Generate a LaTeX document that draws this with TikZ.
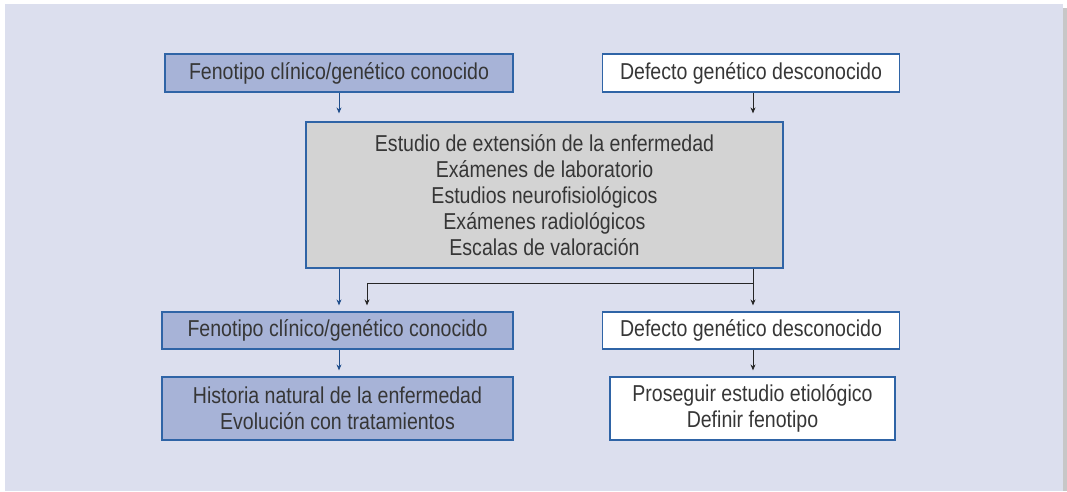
\documentclass[tikz,border=0pt]{standalone}
\usepackage{fontspec}
\setmainfont[FakeStretch=0.85]{Liberation Sans}
\usetikzlibrary{positioning,arrows.meta}
\definecolor{panel}{HTML}{DCDFEE}
\definecolor{boxblue}{HTML}{A7B3D7}
\definecolor{edgeblue}{HTML}{2F64A6}
\definecolor{arrblue}{HTML}{1F4E8C}
\definecolor{boxgray}{HTML}{D3D3D3}
\definecolor{txt}{HTML}{363636}
\begin{document}
\begin{tikzpicture}
[x=1pt,y=-1pt,
  box/.style={draw=edgeblue,line width=1.2pt,inner sep=0pt,text=txt,
    font=\fontsize{23}{26}\selectfont,align=center},
  known/.style={box,fill=boxblue},
  unknown/.style={box,fill=white},
  study/.style={box,fill=boxgray},
  barrow/.style={arrblue,line width=0.9pt,-{Stealth[length=6pt,width=5pt]}},
  karrow/.style={black!85,line width=0.9pt,-{Stealth[length=6pt,width=5pt]}}]
\useasboundingbox (0,0) rectangle (1067,491);
\fill[black!22] (1063,8) rectangle (1067,491);
\fill[panel] (5,4) rectangle (1063,491);
\node[known,minimum width=348pt,minimum height=38pt](fenA) at (339,73){Fenotipo clínico/genético conocido};
\node[unknown,minimum width=297pt,minimum height=38pt](defA) at (751,73){Defecto genético desconocido};
\node[study,minimum width=477pt,minimum height=146pt](est) at (544.5,195){Estudio de extensión de la enfermedad\\
  Exámenes de laboratorio\\ Estudios neurofisiológicos\\ Exámenes radiológicos\\ Escalas de valoración};
\node[known,minimum width=351pt,minimum height=37pt](fenB) at (337.5,330.5){Fenotipo clínico/genético conocido};
\node[unknown,minimum width=297pt,minimum height=37pt](defB) at (751,330.5){Defecto genético desconocido};
\node[known,minimum width=351pt,minimum height=63pt](hist) at (337.5,408.5){Historia natural de la enfermedad\\ Evolución con tratamientos};
\node[unknown,minimum width=285pt,minimum height=63pt](pros) at (752.5,408.5){Proseguir estudio etiológico\\ Definir fenotipo};
\coordinate (split) at (753,283);
\coordinate (back) at (367,283);
\draw[barrow,shorten >=8pt] (fenA.south) -- (fenA.south |- est.north);
\draw[karrow,shorten >=8pt] (split |- defA.south) -- (split |- est.north);
\draw[barrow,shorten >=6pt] (fenA.south |- est.south) -- (fenA.south |- fenB.north);
\draw[karrow,shorten >=6pt] (split |- est.south) -- (split |- defB.north);
\draw[karrow,shorten >=6pt] (split) -- (back) -- (back |- fenB.north);
\draw[barrow,shorten >=6pt] (fenB.south -| fenA.south) -- (fenA.south |- hist.north);
\draw[karrow,shorten >=6pt] (split |- defB.south) -- (split |- pros.north);
\end{tikzpicture}
\end{document}
